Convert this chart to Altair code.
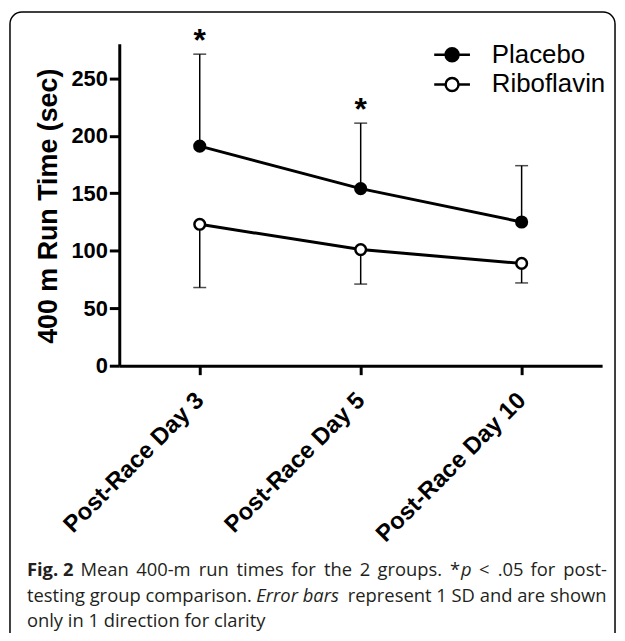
import altair as alt
import pandas as pd

days = ["Post-Race Day 3", "Post-Race Day 5", "Post-Race Day 10"]
groups = ["Placebo", "Riboflavin"]
placebo_mean = [191, 154, 125]
placebo_sd_end = [271, 211, 174]
riboflavin_mean = [123, 101, 89]
riboflavin_sd_end = [68, 71, 72]
significance = ["*", "*", ""]
y_ticks = [0, 50, 100, 150, 200, 250]

caption_line1 = ["Fig. 2", "Mean", "400-m", "run", "times", "for", "the", "2", "groups.",
                 "*", "p", "<", ".05", "for", "post-"]
caption_line2 = ["testing group comparison.", "Error bars", "represent 1 SD and are shown"]
caption_line3 = ["only in 1 direction for clarity"]

rows = []
for g, means, ends in [("Placebo", placebo_mean, placebo_sd_end),
                       ("Riboflavin", riboflavin_mean, riboflavin_sd_end)]:
    for d, m, e in zip(days, means, ends):
        rows.append({"day": d, "group": g, "mean": m, "sd_end": e})
df = pd.DataFrame(rows)
sig_df = pd.DataFrame({"day": days, "mark": significance, "top": placebo_sd_end})
sig_df = sig_df[sig_df["mark"] != ""]

FONT = "Liberation Sans"
x_scale = alt.Scale(type="point", padding=0.5, domain=days)
x_axis = alt.Axis(title=None, labelAngle=315, labelAlign="right", labelBaseline="middle",
                  labelFont=FONT, labelFontSize=24, labelFontWeight="bold", labelColor="black",
                  labelPadding=22, labelLimit=400, tickSize=9, tickWidth=3, tickColor="black",
                  domainWidth=3, domainColor="black", grid=False)
y_scale = alt.Scale(domain=[0, 280], nice=False)
y_axis = alt.Axis(values=y_ticks, title="400 m Run Time (sec)", titleFont=FONT, titleFontSize=27,
                  titleFontWeight="bold", titleColor="black", titleX=-71, titleY=163,
                  titleAngle=270, titleAlign="center", titleBaseline="middle",
                  labelFont=FONT, labelFontSize=22, labelFontWeight="bold", labelColor="black",
                  labelPadding=2, tickSize=10, tickWidth=3, tickColor="black",
                  domainWidth=3, domainColor="black", grid=False)


def X():
    return alt.X("day:N", scale=x_scale, axis=x_axis)


def Y(field):
    return alt.Y(f"{field}:Q", scale=y_scale, axis=y_axis)


one = pd.DataFrame({"k": [0]})
border = alt.Chart(one).mark_rect(fill="transparent", stroke="black", strokeWidth=1.5,
                                  cornerRadius=12).encode(
    x=alt.value(-110), x2=alt.value(499), y=alt.value(-32), y2=alt.value(700))

base = alt.Chart(df)
rules = base.mark_rule(color="black", strokeWidth=1.5).encode(
    x=X(), y=Y("mean"), y2=alt.Y2("sd_end:Q"))
caps = base.mark_tick(color="black", thickness=1.5, size=13).encode(x=X(), y=Y("sd_end"))
lines = base.mark_line(color="black", strokeWidth=3).encode(x=X(), y=Y("mean"), detail="group:N")

legend_path = ("M-1.16,0H-0.42M0.42,0H1.16M0.42,0A0.42,0.42,0,1,1,-0.42,0"
               "A0.42,0.42,0,1,1,0.42,0Z")
points = base.mark_circle(size=115, stroke="black", strokeWidth=2.5, opacity=1).encode(
    x=X(), y=Y("mean"),
    fill=alt.Fill("group:N", scale=alt.Scale(domain=groups, range=["black", "white"]),
                  legend=alt.Legend(title=None, orient="none", legendX=318, legendY=-6,
                                    symbolType=legend_path, symbolSize=961,
                                    symbolStrokeColor="black", symbolStrokeWidth=2.5,
                                    symbolOpacity=1, labelFont=FONT, labelFontSize=26,
                                    labelColor="black", labelOffset=23, rowPadding=0,
                                    padding=0, labelLimit=300)))

stars = alt.Chart(sig_df).mark_text(font=FONT, fontSize=32, fontWeight="bold", color="black",
                                    baseline="alphabetic", align="center", dy=-3).encode(
    x=X(), y=Y("top"), text="mark:N")


def piece(text, x, y, weight="normal", style="normal"):
    return alt.Chart(one).mark_text(text=text, align="left", baseline="alphabetic",
                                    font="Open Sans", fontSize=18.5, fontWeight=weight,
                                    fontStyle=style, color="#231f20").encode(
        x=alt.value(x), y=alt.value(y))


# layout of the justified caption (plot-area pixel offsets)
line1_x = [-93, -39, 17, 80, 118, 173, 206, 242, 260, 333, 344, 362, 381, 414, 447]
line1_weight = ["bold"] + ["normal"] * 14
line1_style = ["normal"] * 10 + ["italic"] + ["normal"] * 4
line2_x = [-93, 138, 230]
line2_style = ["normal", "italic", "normal"]

caption = []
for t, x, w, s in zip(caption_line1, line1_x, line1_weight, line1_style):
    caption.append(piece(t, x, 536, weight=w, style=s))
for t, x, s in zip(caption_line2, line2_x, line2_style):
    caption.append(piece(t, x, 562, style=s))
caption.append(piece(caption_line3[0], -93, 587))

chart = alt.layer(border, rules, caps, lines, points, stars, *caption).properties(
    width=486, height=324,
    autosize=alt.AutoSizeParams(type="none"),
    padding={"left": 112, "top": 34, "right": 15, "bottom": 267},
).configure_view(stroke="transparent")

chart.save("out.html", embed_options={"renderer": "svg", "actions": False})
